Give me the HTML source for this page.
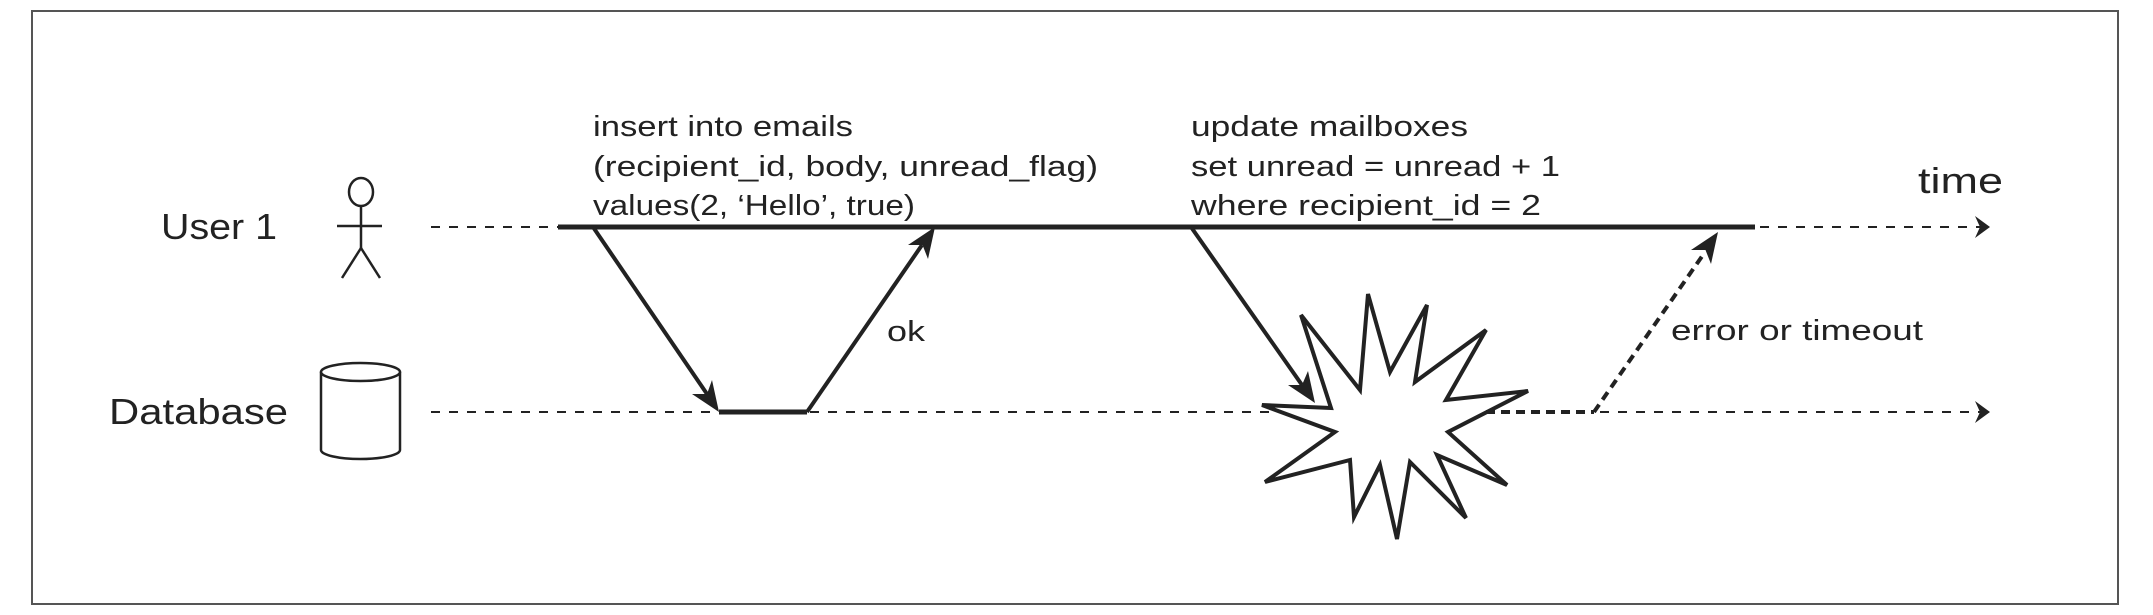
<!DOCTYPE html>
<html><head><meta charset="utf-8"><style>
html,body{margin:0;padding:0;background:#fff;}
svg{display:block;}
text{font-family:"Liberation Sans",sans-serif;fill:#222;}
</style></head><body>
<svg width="2153" height="615" viewBox="0 0 2153 615" xmlns="http://www.w3.org/2000/svg">
<rect x="32" y="11" width="2086" height="593" fill="#fff" stroke="#555" stroke-width="2"/>

<!-- labels -->
<text x="161" y="239" font-size="36" textLength="116" lengthAdjust="spacingAndGlyphs">User 1</text>
<text x="109" y="424" font-size="36" textLength="179" lengthAdjust="spacingAndGlyphs">Database</text>
<text x="1918" y="193" font-size="36" textLength="85" lengthAdjust="spacingAndGlyphs">time</text>

<text x="593" y="136" font-size="29" textLength="260" lengthAdjust="spacingAndGlyphs">insert into emails</text>
<text x="593" y="176" font-size="29" textLength="505" lengthAdjust="spacingAndGlyphs">(recipient_id, body, unread_flag)</text>
<text x="593" y="215" font-size="29" textLength="322" lengthAdjust="spacingAndGlyphs">values(2, ‘Hello’, true)</text>

<text x="1191" y="136" font-size="29" textLength="277" lengthAdjust="spacingAndGlyphs">update mailboxes</text>
<text x="1191" y="176" font-size="29" textLength="369" lengthAdjust="spacingAndGlyphs">set unread = unread + 1</text>
<text x="1191" y="215" font-size="29" textLength="350" lengthAdjust="spacingAndGlyphs">where recipient_id = 2</text>

<text x="887" y="341" font-size="29" textLength="38" lengthAdjust="spacingAndGlyphs">ok</text>
<text x="1671" y="340" font-size="29" textLength="252" lengthAdjust="spacingAndGlyphs">error or timeout</text>

<!-- stick figure -->
<g stroke="#222" stroke-width="2.5" fill="none">
<ellipse cx="361" cy="192" rx="12" ry="14"/>
<line x1="361" y1="206" x2="361" y2="250"/>
<line x1="337" y1="226" x2="382" y2="226"/>
<line x1="361" y1="248" x2="342" y2="278"/>
<line x1="361" y1="248" x2="380" y2="278"/>
</g>
<!-- cylinder -->
<g stroke="#222" stroke-width="2.5" fill="#fff">
<path d="M321,372 L321,450 A39.5,9 0 0 0 400,450 L400,372"/>
<ellipse cx="360.5" cy="372" rx="39.5" ry="9"/>
</g>

<!-- timelines -->
<g stroke="#222" stroke-width="2" stroke-dasharray="9,9" fill="none">
<line x1="431" y1="227" x2="558" y2="227"/>
<line x1="1760" y1="227" x2="1980" y2="227"/>
<line x1="431" y1="412" x2="719" y2="412"/>
<line x1="810" y1="412" x2="1290" y2="412"/>
<line x1="1600" y1="412" x2="1980" y2="412"/>
</g>
<polygon points="1975,216 1990,227 1975,238 1980,227" fill="#222"/>
<polygon points="1975,401 1990,412 1975,423 1980,412" fill="#222"/>

<line x1="558" y1="227" x2="1755" y2="227" stroke="#222" stroke-width="5"/>
<line x1="719" y1="412" x2="807" y2="412" stroke="#222" stroke-width="5"/>

<!-- arrows -->
<g stroke="#222" stroke-width="4" fill="none">
<line x1="593" y1="227" x2="707" y2="394"/>
<line x1="807" y1="412" x2="922" y2="245"/>
<line x1="1191" y1="227" x2="1302" y2="385"/>
</g>
<!-- arrowheads -->
<polygon points="719,412 692,394 707,394 712,380" fill="#222"/>
<polygon points="935,227 928,259 922.5,245 908,245" fill="#222"/>
<polygon points="1315,403 1288,385 1302,385 1308,371" fill="#222"/>

<!-- starburst -->
<polygon fill="#fff" stroke="#222" stroke-width="4" stroke-linejoin="miter" points="
1368,294 1390,372 1427,305 1415,382 1486,330 1446,400 1528,391 1448,432 1507,485 1437,455 1466,518 1410,462 1397,539 1380,465 1354,517 1350,460 1265,482 1335,432 1262,405 1331,408 1301,315 1360,390"/>

<!-- dotted error path -->
<g stroke="#222" stroke-width="4" stroke-dasharray="9,6" fill="none">
<line x1="1486" y1="412" x2="1594" y2="412"/>
<line x1="1594" y1="412" x2="1705" y2="252"/>
</g>
<polygon points="1718,232 1711,264 1705.5,250 1691,250" fill="#222"/>
</svg>
</body></html>
